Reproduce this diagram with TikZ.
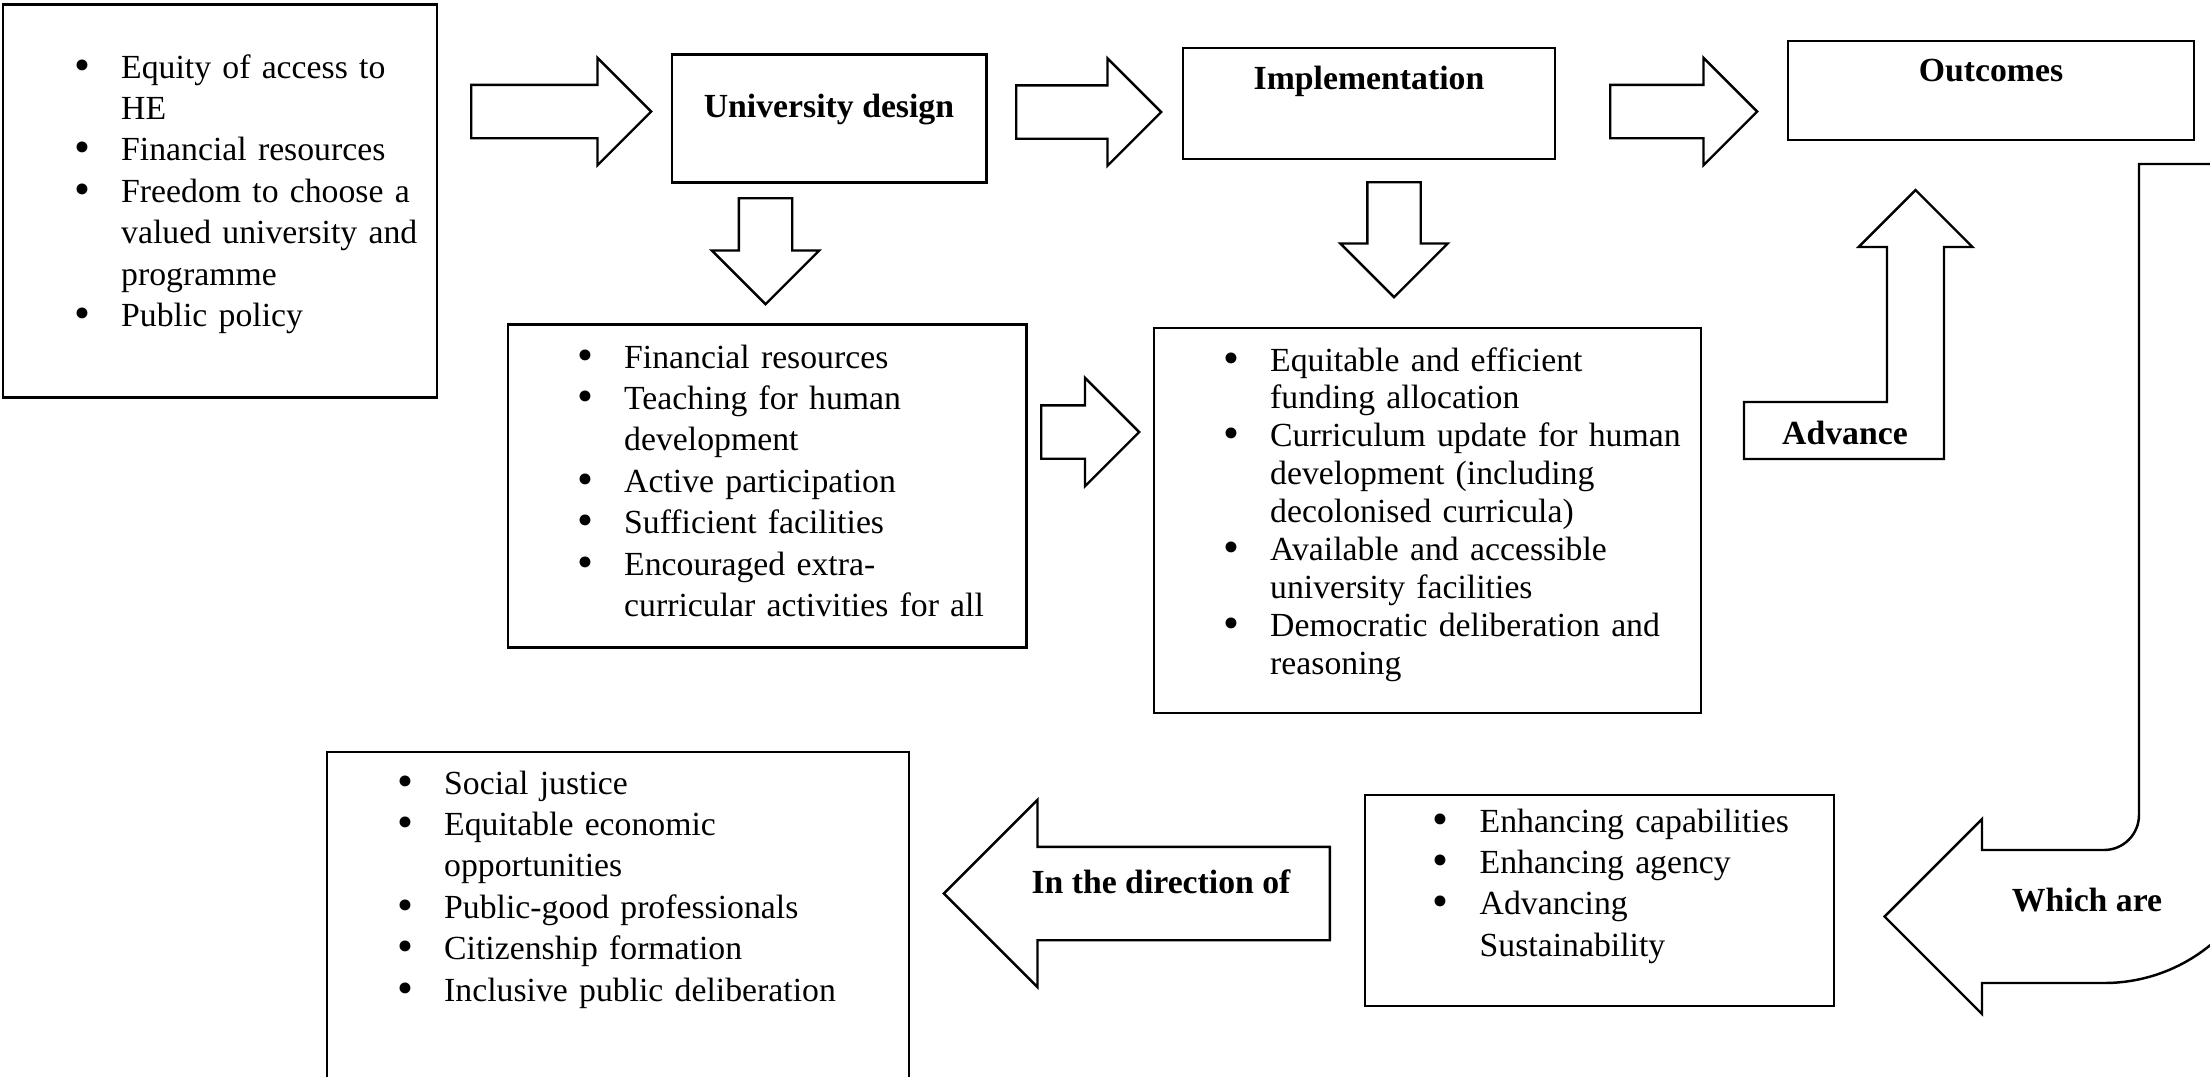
\documentclass[tikz,border=0pt]{standalone}
\usepackage{fontspec}
\setmainfont{Liberation Serif}
\usetikzlibrary{
    positioning,
    shapes.arrows
}
\newlength{\bulind}
\setlength{\bulind}{0.47cm}
\newcommand{\bitem}{\makebox[\bulind][l]{\smash{\raisebox{-0.06em}{\scalebox{1.35}{\textbullet}}}}}
\newcommand{\bcont}{\hspace*{\bulind}}
\tikzset{
    % Boxes
    box/.style={rectangle,draw,inner sep=0pt},
    thin box/.style={box,line width=0.45pt},
    thick box/.style={box,line width=0.85pt},
    heading/.style={font=\fontsize{9.6}{11.8}\selectfont\bfseries},
    %
    % Bullet lists
    list text/.style={anchor=base west,align=left,inner sep=0pt,text width=#1},
    %
    % Arrows
    block arrow/.style={single arrow,draw,anchor=tail,line width=0.7pt,inner xsep=0pt,inner ysep=0.255cm,
        single arrow head extend=0.27cm,minimum height=#1},
    bent arrow/.style={line width=0.7pt,line join=miter}
}
\tikzstyle{every node}=[font=\fontsize{9.6}{11.8}\selectfont]

\begin{document}
\begin{tikzpicture}
    \useasboundingbox (0,0) rectangle (22.10,-10.76);
    \clip (0,0) rectangle (22.10,-10.76);
    % Top row
    \node[thick box,minimum width=4.34cm,minimum height=3.93cm] (inputs) at (2.20,-2.005) {};
    \node[list text=3.6cm] (inputs list) at (0.735,-0.78)
        {\bitem Equity of access to\\\bcont HE\\\bitem Financial resources\\\bitem Freedom to choose a\\\bcont valued university and\\\bcont programme\\\bitem Public policy};
    \node[thick box,heading,minimum width=3.14cm,minimum height=1.28cm,text depth=0.25cm] (design) at (8.29,-1.18) {University design};
    \node[thin box,heading,minimum width=3.72cm,minimum height=1.11cm,text depth=0.52cm] (implementation) at (13.69,-1.035) {Implementation};
    \node[thin box,heading,minimum width=4.06cm,minimum height=0.99cm,text depth=0.40cm] (outcomes) at (19.91,-0.905) {Outcomes};
    \node[block arrow=1.80cm] (to design) at (4.70,-1.115) {};
    \node[block arrow=1.45cm] (to implementation) at (10.15,-1.12) {};
    \node[block arrow=1.47cm] (to outcomes) at (16.09,-1.115) {};
    % Middle row
    \node[block arrow=1.06cm,rotate=-90] (down design) at (7.655,-1.97) {};
    \node[block arrow=1.15cm,rotate=-90] (down implementation) at (13.94,-1.81) {};
    \node[thick box,minimum width=5.18cm,minimum height=3.23cm] (design items) at (7.67,-4.855) {};
    \node[list text=4.4cm] (design items list) at (5.765,-3.68)
        {\bitem Financial resources\\\bitem Teaching for human\\\bcont development\\\bitem Active participation\\\bitem Sufficient facilities\\\bitem Encouraged extra-\\\bcont curricular activities for all};
    \node[block arrow=0.98cm,single arrow head extend=0.275cm] (to actions) at (10.40,-4.32) {};
    \node[thin box,minimum width=5.47cm,minimum height=3.85cm] (actions) at (14.275,-5.205) {};
    \node[list text=4.7cm,font=\fontsize{9.6}{10.8}\selectfont] (actions list) at (12.225,-3.71)
        {\bitem Equitable and efficient\\\bcont funding allocation\\\bitem Curriculum update for human\\\bcont development (including\\\bcont decolonised curricula)\\\bitem Available and accessible\\\bcont university facilities\\\bitem Democratic deliberation and\\\bcont reasoning};
    % Advance
    \draw[bent arrow] (17.44,-4.02) -- (18.87,-4.02) -- (18.87,-2.47) -- (18.585,-2.47) -- (19.155,-1.90)
        -- (19.725,-2.47) -- (19.44,-2.47) -- (19.44,-4.59) -- (17.44,-4.59) -- cycle;
    \node[heading] (advance) at (18.45,-4.325) {Advance};
    % Which are
    \draw[bent arrow] (22.30,-1.64) -- (21.39,-1.64) -- (21.39,-8.15) arc[start angle=0,end angle=-90,radius=0.35]
        -- (19.82,-8.50) -- (19.82,-8.19) -- (18.845,-9.165) -- (19.82,-10.14) -- (19.82,-9.83) -- (21.04,-9.83)
        arc[start angle=-90,end angle=0,radius=1.68] -- (22.72,-1.64) -- cycle;
    \node[heading] (which are) at (20.87,-9.00) {Which are};
    % Bottom row
    \node[thin box,minimum width=4.69cm,minimum height=2.11cm] (capabilities) at (15.995,-9.005) {};
    \node[list text=3.9cm] (capabilities list) at (14.32,-8.32)
        {\bitem Enhancing capabilities\\\bitem Enhancing agency\\\bitem Advancing\\\bcont Sustainability};
    \node[block arrow=3.86cm,inner ysep=0.455cm,single arrow head extend=0.47cm,rotate=180] (to goals) at (13.31,-8.935) {};
    \node[heading] (direction) at (11.61,-8.815) {In the direction of};
    \node[thin box,minimum width=5.82cm,minimum height=3.68cm] (goals) at (6.18,-9.36) {};
    \node[list text=5.0cm] (goals list) at (3.965,-7.94)
        {\bitem Social justice\\\bitem Equitable economic\\\bcont opportunities\\\bitem Public-good professionals\\\bitem Citizenship formation\\\bitem Inclusive public deliberation};
\end{tikzpicture}
\end{document}
